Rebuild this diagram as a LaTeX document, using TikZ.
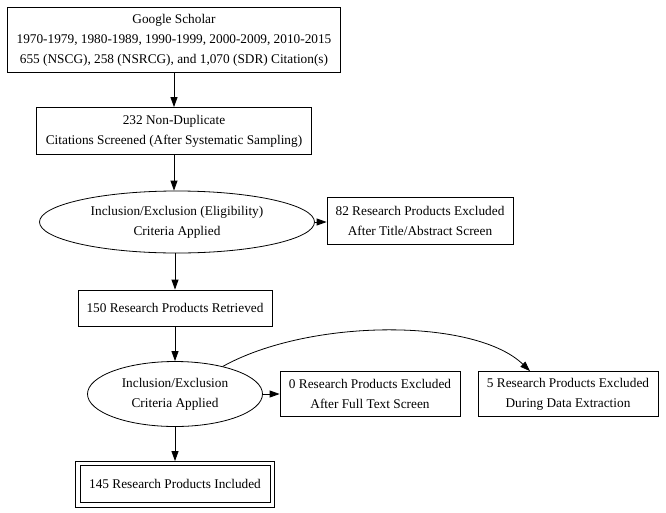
\documentclass[tikz,border=0pt]{standalone}
\usepackage{fontspec}
\setmainfont{Liberation Serif}
\usepackage{tikz}
\usetikzlibrary{arrows.meta, positioning, shapes.geometric}
\tikzset{mybox/.style = {draw,rectangle,align=center,inner sep=0pt,minimum width=#1},
	myoval/.style = {draw,ellipse,align=center,inner sep=0pt},
	myarrow/.style = {-{Triangle[length=10pt,width=7pt]}}}

\begin{document}
\begin{tikzpicture}[x=1pt,y=1pt,line width=0.8pt,
	font=\fontsize{13.3}{20}\selectfont]
\useasboundingbox[fill=white] (0,0) rectangle (666,-512);
\node[mybox=333pt,minimum height=65pt] (scholar) at (174,-40)
	{Google Scholar\\1970-1979, 1980-1989, 1990-1999, 2000-2009, 2010-2015\\655 (NSCG), 258 (NSRCG), and 1,070 (SDR) Citation(s)};
\node[mybox=275pt,minimum height=47pt] (screened) at (174,-131)
	{232 Non-Duplicate\\Citations Screened (After Systematic Sampling)};
\node[myoval,minimum width=275pt,minimum height=62pt] (elig) at (177,-222)
	{Inclusion/Exclusion (Eligibility)\\Criteria Applied};
\node[mybox=186pt,minimum height=47pt] (excltitle) at (420,-221)
	{82 Research Products Excluded\\After Title/Abstract Screen};
\node[mybox=194pt,minimum height=36pt] (retrieved) at (175,-308)
	{150 Research Products Retrieved};
\node[myoval,minimum width=175pt,minimum height=65pt] (crit) at (175,-394)
	{Inclusion/Exclusion\\Criteria Applied};
\node[mybox=180pt,minimum height=45pt] (exclfull) at (370,-394)
	{0 Research Products Excluded\\After Full Text Screen};
\node[mybox=180pt,minimum height=45pt] (excldata) at (568,-394)
	{5 Research Products Excluded\\During Data Extraction};
\node[mybox=190pt,minimum height=37pt] (included) at (175,-484)
	{145 Research Products Included};
\draw ([shift={(-4pt,4pt)}]included.north west) rectangle ([shift={(4pt,-4pt)}]included.south east);

\draw[myarrow] (scholar) -- (screened);
\draw[myarrow] (screened) -- (elig.north -| screened);
\draw[myarrow] (elig.east) -- (excltitle.west |- elig.east);
\draw[myarrow] (175,-253) -- (retrieved.north);
\draw[myarrow] (retrieved) -- (crit);
\draw[myarrow] (crit) -- (exclfull);
\draw[myarrow] (crit) -- ([yshift=4pt]included.north);
\draw[myarrow] (crit.30) .. controls (310,-318) and (475,-318) .. ([xshift=-38pt]excldata.north);
\end{tikzpicture}
\end{document}
